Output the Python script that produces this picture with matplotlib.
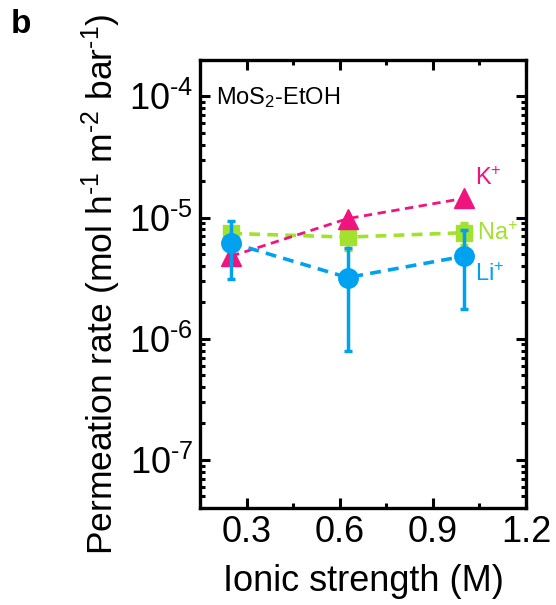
import matplotlib
matplotlib.use("Agg")
import matplotlib.pyplot as plt
from matplotlib.ticker import FixedLocator, LogLocator, NullFormatter

plt.rcParams['font.family'] = ['Liberation Sans', 'DejaVu Sans']
plt.rcParams['mathtext.fontset'] = 'custom'
plt.rcParams['mathtext.rm'] = 'Liberation Sans'
plt.rcParams['mathtext.it'] = 'Liberation Sans:italic'
plt.rcParams['mathtext.bf'] = 'Liberation Sans:bold'

ionic_strength = [0.25, 0.625, 1.0]
k_rate = [4.8e-6, 9.8e-6, 1.44e-5]
na_rate = [7.4e-6, 6.9e-6, 7.5e-6]
na_err = [1.0e-6, 1.5e-6, 1.6e-6]
li_rate = [6.2e-6, 3.2e-6, 4.8e-6]
li_err = [3.1e-6, 2.4e-6, 3.05e-6]
x_ticks = [0.3, 0.6, 0.9, 1.2]
x_ticklabels = ['0.3', '0.6', '0.9', '1.2']
y_ticks = [1e-7, 1e-6, 1e-5, 1e-4]
y_ticklabels = [r'10$^{\text{-}7}$', r'10$^{\text{-}6}$', r'10$^{\text{-}5}$', r'10$^{\text{-}4}$']

c_k = '#F0147F'
c_na = '#A2E22E'
c_li = '#00A2F0'

fig = plt.figure(figsize=(5.56, 6.05), dpi=100)
ax = fig.add_axes([0.36, 0.160, 0.586, 0.741])

dash = (0, (3, 2))
ax.errorbar(ionic_strength, na_rate, yerr=na_err, color=c_na, marker='s', ms=11,
            lw=2.6, ls=dash, elinewidth=2.5, capsize=3, capthick=2.5, zorder=3)
ax.plot(ionic_strength, k_rate, color=c_k, marker='^', ms=14, lw=2.0, ls=dash, zorder=4)
ax.errorbar(ionic_strength, li_rate, yerr=li_err, color=c_li, marker='o', ms=14,
            lw=2.6, ls=dash, elinewidth=2.5, capsize=3, capthick=2.5, zorder=5)

ax.set_yscale('log')
ax.set_xlim(0.15, 1.2)
ax.set_ylim(4e-8, 2e-4)

ax.xaxis.set_major_locator(FixedLocator(x_ticks))
ax.xaxis.set_minor_locator(FixedLocator([0.45, 0.75, 1.05]))
ax.set_xticklabels(x_ticklabels)
ax.yaxis.set_major_locator(FixedLocator(y_ticks))
ax.set_yticklabels(y_ticklabels)
ax.yaxis.set_minor_locator(LogLocator(base=10, subs=range(2, 10), numticks=20))
ax.yaxis.set_minor_formatter(NullFormatter())

ax.tick_params(which='both', direction='in', top=True, right=True, width=2.2)
ax.tick_params(which='major', length=7, labelsize=26, pad=5)
ax.tick_params(which='minor', length=3.5)
for s in ax.spines.values():
    s.set_linewidth(2.4)

ax.set_xlabel('Ionic strength (M)', fontsize=26, labelpad=10)
ax.set_ylabel(r'Permeation rate (mol h$^{\text{-}1}$ m$^{\text{-}2}$ bar$^{\text{-}1}$)',
              fontsize=25.5, labelpad=4)

ax.text(0.05, 0.917, r'MoS$_2$-EtOH', transform=ax.transAxes, fontsize=17, va='center', ha='left')
ax.text(1.035, 2.1e-5, r'K$^{+}$', color=c_k, fontsize=17, ha='left', va='center')
ax.text(1.043, 7.4e-6, r'Na$^{+}$', color=c_na, fontsize=17, ha='left', va='center')
ax.text(1.035, 3.4e-6, r'Li$^{+}$', color=c_li, fontsize=17, ha='left', va='center')

fig.text(0.02, 0.985, 'b', fontsize=24, fontweight='bold', va='top', ha='left')

fig.savefig('out.png', dpi=100)
